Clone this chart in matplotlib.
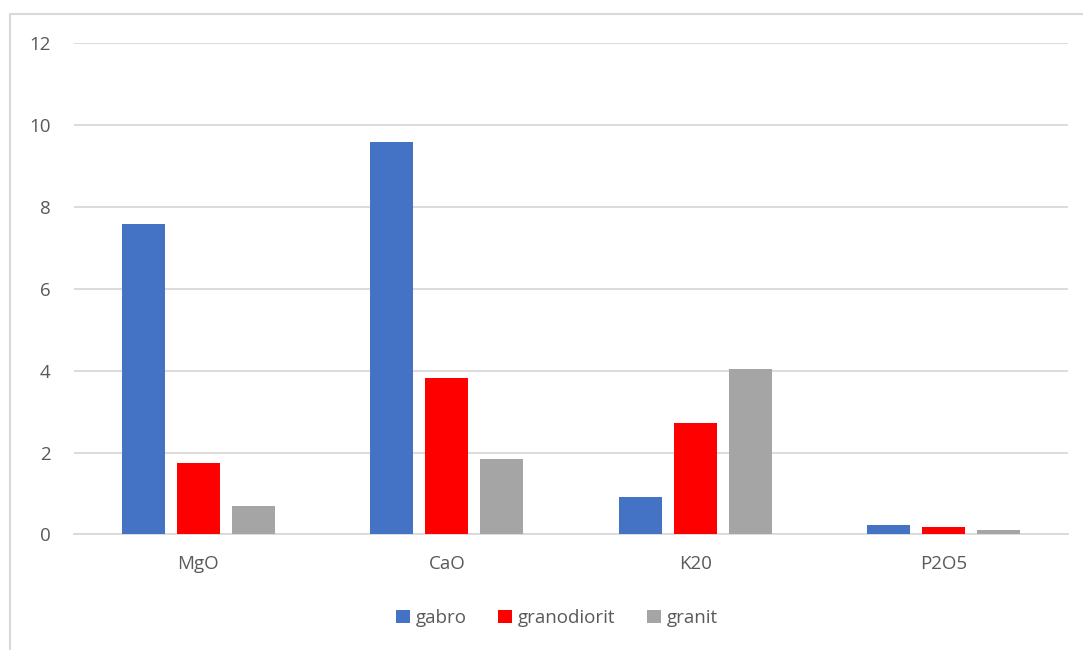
import matplotlib
matplotlib.use("Agg")
import matplotlib.pyplot as plt
import numpy as np
from matplotlib.patches import Rectangle

categories = ["MgO", "CaO", "K20", "P2O5"]
gabro = [7.58, 9.58, 0.92, 0.23]
granodiorit = [1.74, 3.82, 2.72, 0.17]
granit = [0.70, 1.83, 4.05, 0.10]
series_names = ["gabro", "granodiorit", "granit"]
colors = ["#4472C4", "#FF0000", "#A5A5A5"]
yticks = [0, 2, 4, 6, 8, 10, 12]

plt.rcParams["font.family"] = ["Open Sans", "DejaVu Sans"]

fig = plt.figure(figsize=(10.83, 6.5), dpi=100)
W, H = 1083, 650

# chart frame
fig.patches.append(Rectangle((10 / W, -0.1), 1.2, 1 - 14 / H + 0.1,
                             transform=fig.transFigure, fill=False,
                             edgecolor="#D9D9D9", linewidth=1.5))

ax = fig.add_axes([74 / W, 1 - 534.4 / H, (1068 - 74) / W, (534.4 - 43) / H])

x = np.arange(len(categories))
bw = 0.173
step = 0.221
for i, (vals, name, c) in enumerate(zip([gabro, granodiorit, granit], series_names, colors)):
    ax.bar(x + (i - 1) * step, vals, width=bw, color=c, label=name, zorder=3)

ax.set_xlim(-0.5, len(categories) - 0.5)
ax.set_ylim(0, 12)
ax.set_yticks(yticks)
ax.set_yticklabels([str(v) for v in yticks])
ax.set_xticks(x)
ax.set_xticklabels(categories)
ax.yaxis.grid(True, color="#D9D9D9", linewidth=1.3, zorder=0)
ax.set_axisbelow(True)
for s in ["top", "right", "left"]:
    ax.spines[s].set_visible(False)
ax.spines["bottom"].set_color("#D9D9D9")
ax.spines["bottom"].set_linewidth(1.3)
ax.tick_params(axis="both", length=0, colors="#595959", labelsize=13.5)
ax.tick_params(axis="y", pad=17)
ax.tick_params(axis="x", pad=15)

leg = fig.legend(loc="center", bbox_to_anchor=(557 / W, 1 - 618 / H), ncol=3,
                 frameon=False, fontsize=13.5, handlelength=0.75, handleheight=0.75,
                 handletextpad=0.3, columnspacing=1.7)
for t in leg.get_texts():
    t.set_color("#595959")

fig.savefig("out.png", dpi=100)
